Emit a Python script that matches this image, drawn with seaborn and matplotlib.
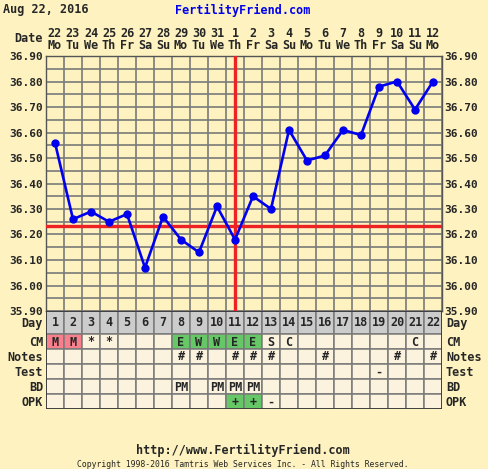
import numpy as np
import pandas as pd
import seaborn as sns
import matplotlib.pyplot as plt
from matplotlib.patches import Rectangle

# Chart values
dates = [22, 23, 24, 25, 26, 27, 28, 29, 30, 31, 1, 2, 3, 4, 5, 6, 7, 8, 9, 10, 11, 12]
weekdays = ['Mo', 'Tu', 'We', 'Th', 'Fr', 'Sa', 'Su', 'Mo', 'Tu', 'We', 'Th',
            'Fr', 'Sa', 'Su', 'Mo', 'Tu', 'We', 'Th', 'Fr', 'Sa', 'Su', 'Mo']
cycle_day = list(range(1, 23))
temps = [36.56, 36.26, 36.29, 36.25, 36.28, 36.07, 36.27, 36.18, 36.13, 36.31, 36.18,
         36.35, 36.30, 36.61, 36.49, 36.51, 36.61, 36.59, 36.78, 36.80, 36.69, 36.80]
coverline = 36.235
ovulation_day = 11

cm = ['M', 'M', '*', '*', '', '', '', 'E', 'W', 'W', 'E', 'E', 'S', 'C', '', '', '', '', '', '', 'C', '']
notes = ['', '', '', '', '', '', '', '#', '#', '', '#', '#', '#', '', '', '#', '', '', '', '#', '', '#']
test = [''] * 18 + ['-', '', '', '']
bd = ['', '', '', '', '', '', '', 'PM', '', 'PM', 'PM', 'PM', '', '', '', '', '', '', '', '', '', '']
opk = [''] * 10 + ['+', '+', '-'] + [''] * 9
row_names = ['Day', 'CM', 'Notes', 'Test', 'BD', 'OPK']

BG = '#fdf2c0'
CREAM = '#fcf3df'
GRID = '#7a7a7a'
PINK = '#f7808c'
GREEN = '#66c766'
FONT = 'DejaVu Sans Mono'
FS = 8

sns.set_style('white')
plt.rcParams['font.family'] = [FONT]

W, H = 488, 469
fig = plt.figure(figsize=(W / 100, H / 100), dpi=100, facecolor=BG)

def box(x0, y0, x1, y1):
    return [x0 / W, 1 - y1 / H, (x1 - x0) / W, (y1 - y0) / H]

ax = fig.add_axes(box(46, 56, 442, 311))
ax.set_facecolor(BG)
df = pd.DataFrame({'day': cycle_day, 'temp': temps})
sns.lineplot(data=df, x='day', y='temp', ax=ax, color='#0000ee', lw=1.9,
             marker='o', markersize=6, markeredgewidth=0, zorder=5)
ax.set_xlim(0.5, 22.5)
ax.set_ylim(35.90, 36.90)
ax.set_xticks(np.arange(0.5, 23, 1), minor=True)
ax.set_xticks([])
major = np.round(np.arange(35.90, 36.905, 0.1), 2)
ax.set_yticks(major)
ax.set_yticks(np.round(major[:-1] + 0.05, 2), minor=True)
ax.set_yticklabels([f'{v:.2f}' for v in major])
ax.grid(which='both', color=GRID, lw=1.2)
ax.tick_params(which='both', length=0, labelsize=FS, pad=2,
               labelleft=True, labelright=True)
for t in ax.get_yticklabels():
    t.set_fontweight('bold')
ax.set_xlabel('')
ax.set_ylabel('')
for s in ax.spines.values():
    s.set_color('#555555')
    s.set_linewidth(1)

ax.axhline(coverline, color='#ee2222', lw=2.4, zorder=4)
ax.axvline(ovulation_day, color='#ee2222', lw=2.4, zorder=4)

# header with dates
for d, dt, wd in zip(cycle_day, dates, weekdays):
    ax.text(d, 36.99, str(dt), ha='center', va='center', fontsize=FS + 0.5,
            fontweight='bold', clip_on=False)
    ax.text(d, 36.943, wd, ha='center', va='center', fontsize=FS + 0.5,
            fontweight='bold', clip_on=False)
fig.text(43 / W, 1 - 39 / H, 'Date', ha='right', va='center', fontsize=FS + 0.5, fontweight='bold')

# table below chart
tab = fig.add_axes(box(46, 311, 442, 409))
tab.set_xlim(0.5, 22.5)
tab.set_ylim(98, 0)
tab.axis('off')
edges = [0, 23, 38, 53, 68, 83, 98]
rows = [[str(c) for c in cycle_day], cm, notes, test, bd, opk]
for r, vals in enumerate(rows):
    y0, y1 = edges[r], edges[r + 1]
    for d, v in zip(cycle_day, vals):
        fc = '#cccccc' if r == 0 else CREAM
        if r == 1 and v == 'M':
            fc = PINK
        elif (r == 1 and v in ('E', 'W')) or (r == 5 and v == '+'):
            fc = GREEN
        tab.add_patch(Rectangle((d - 0.5, y0), 1, y1 - y0, facecolor=fc,
                                edgecolor=GRID, lw=1.1))
        tab.text(d, (y0 + y1) / 2 + 0.5, v, ha='center', va='center',
                 fontsize=FS + 0.5, fontweight='bold')
    yc = 1 - (311 + (y0 + y1) / 2 + 1) / H
    fig.text(43 / W, yc, row_names[r], ha='right', va='center', fontsize=FS + 0.5, fontweight='bold')
    fig.text(446 / W, yc, row_names[r], ha='left', va='center', fontsize=FS + 0.5, fontweight='bold')
tab.add_patch(Rectangle((0.5, 0), 22, 98, fill=False, edgecolor='#333333', lw=1.2))

# titles and footer
fig.text(3 / W, 1 - 10 / H, 'Aug 22, 2016', ha='left', va='center', fontsize=FS + 0.5, fontweight='bold')
fig.text(243 / W, 1 - 10 / H, 'FertilityFriend.com', ha='center', va='center',
         fontsize=FS + 0.5, fontweight='bold', color='#0000ee')
fig.text(243 / W, 1 - 450 / H, 'http://www.FertilityFriend.com', ha='center', va='center',
         fontsize=FS + 0.5, fontweight='bold')
fig.text(243 / W, 1 - 464 / H,
         'Copyright 1998-2016 Tamtris Web Services Inc. - All Rights Reserved.',
         ha='center', va='center', fontsize=5.9)

fig.savefig('out.png', dpi=100, facecolor=BG)
